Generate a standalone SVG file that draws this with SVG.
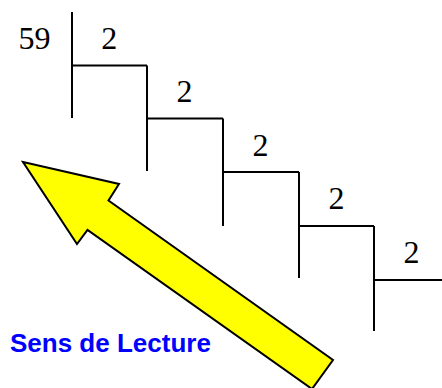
<svg xmlns="http://www.w3.org/2000/svg" width="442" height="388" viewBox="0 0 442 388">
<style>
.num{font-family:"Liberation Serif","Times New Roman",serif;font-size:32px;fill:#000}
.ln{stroke:#000;stroke-width:2;fill:none;stroke-linecap:butt}
.lbl{font-family:"Liberation Sans",Arial,sans-serif;font-weight:bold;font-size:26px;fill:#0000ff}
</style>
<rect width="442" height="388" fill="#fff"/>
<g id="connectors">
<path class="ln" d="M72,12V118 M72,65.5H147 M147,65.5V171 M147,118.5H223 M223,118.5V226 M223,172H299 M299,172V278 M299,226H374 M374,226V331 M374,280H442"/>
</g>
<g id="dividend"><text class="num" x="18.5" y="49">59</text></g>
<g id="step1"><text class="num" x="109.2" y="49" text-anchor="middle">2</text></g>
<g id="step2"><text class="num" x="184.5" y="102" text-anchor="middle">2</text></g>
<g id="step3"><text class="num" x="260.5" y="155.5" text-anchor="middle">2</text></g>
<g id="step4"><text class="num" x="336.5" y="209" text-anchor="middle">2</text></g>
<g id="step5"><text class="num" x="411.5" y="263" text-anchor="middle">2</text></g>
<g id="arrow">
<polygon points="23,162 119,184 108.5,200.5 333,360 312,389 87.5,230 77,244" fill="#ffff00" stroke="#000" stroke-width="2" stroke-linejoin="miter"/>
</g>
<g id="label"><text class="lbl" x="10" y="352">Sens de Lecture</text></g>
</svg>
